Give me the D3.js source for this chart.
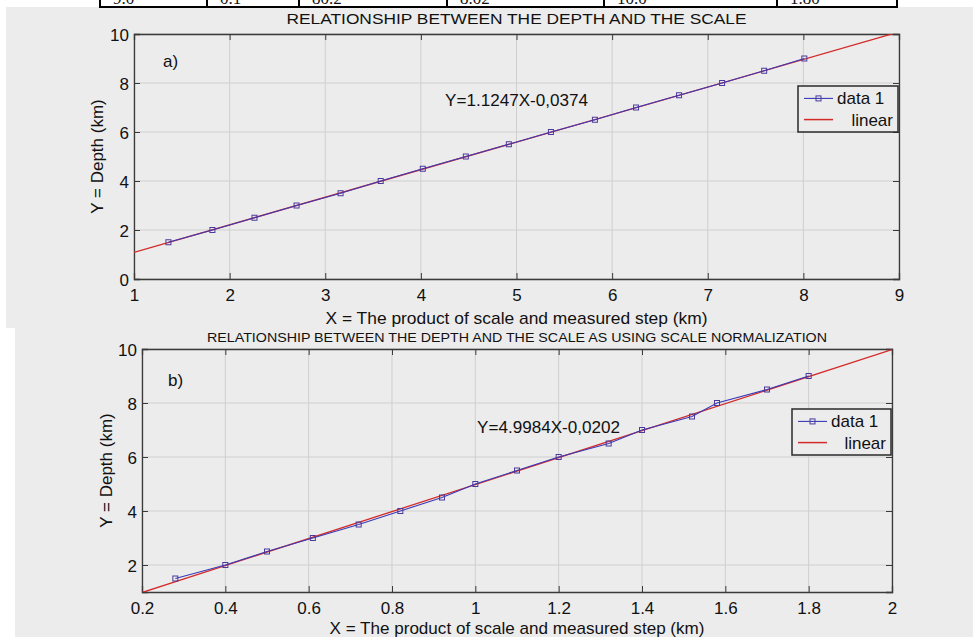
<!DOCTYPE html>
<html>
<head>
<meta charset="UTF-8">
<title>Depth vs scale</title>
<style>
  body { margin: 0; background: #fff; }
  svg { display: block; }
  text { font-family: "Liberation Sans", Arial, sans-serif; fill: #111; }
  .cell { font-family: "Liberation Serif", "Times New Roman", serif; font-size: 17px; }
</style>
</head>
<body>
<svg width="973" height="637"></svg>
<script src="https://d3js.org/d3.v7.min.js"></script>
<script>
// values
const tableRow = ["9.0", "0.1", "80.2", "8.02", "10.0", "1.80"];
const depthKm = [1.5, 2, 2.5, 3, 3.5, 4, 4.5, 5, 5.5, 6, 6.5, 7, 7.5, 8, 8.5, 9];
const stepA = [1.36, 1.82, 2.26, 2.70, 3.16, 3.58, 4.02, 4.47, 4.92, 5.36, 5.82, 6.25, 6.70, 7.15, 7.59, 8.01];
const stepB = [0.28, 0.40, 0.50, 0.61, 0.72, 0.82, 0.92, 1.00, 1.10, 1.20, 1.32, 1.40, 1.52, 1.58, 1.70, 1.80];
const fitA = [1.1247, -0.0374];
const fitB = [4.9984, -0.0202];
const xTicksA = [1, 2, 3, 4, 5, 6, 7, 8, 9];
const yTicksA = [0, 2, 4, 6, 8, 10];
const xTicksB = [0.2, 0.4, 0.6, 0.8, 1, 1.2, 1.4, 1.6, 1.8, 2];
const xTickLabelsB = ["0.2", "0.4", "0.6", "0.8", "1", "1.2", "1.4", "1.6", "1.8", "2"];
const yTicksB = [2, 4, 6, 8, 10];
const legendLabels = ["data 1", "linear"];

const svg = d3.select("svg");

// figure backgrounds
svg.append("rect").attr("x", 6).attr("y", 7).attr("width", 967).attr("height", 321).attr("fill", "#ececec");
svg.append("rect").attr("x", 15).attr("y", 327).attr("width", 958).attr("height", 310).attr("fill", "#ececec");

// clipped table row at the very top
const tableCols = [100, 207, 299, 447, 604, 777, 897];
const tbl = svg.append("g");
tbl.append("line").attr("x1", 100).attr("x2", 897).attr("y1", 7).attr("y2", 7)
  .attr("stroke", "#000").attr("stroke-width", 2);
tbl.selectAll("line.v").data(tableCols).enter().append("line").attr("class", "v")
  .attr("x1", d => d).attr("x2", d => d).attr("y1", 0).attr("y2", 8)
  .attr("stroke", "#000").attr("stroke-width", 2);
tbl.selectAll("text").data(tableRow).enter().append("text").attr("class", "cell")
  .attr("x", (d, i) => tableCols[i] + 13).attr("y", 4).text(d => d);

function panel(o) {
  const g = svg.append("g");
  const x = d3.scaleLinear().domain(o.xDomain).range([o.left, o.right]);
  const y = d3.scaleLinear().domain(o.yDomain).range([o.bottom, o.top]);
  const clipId = "clip" + o.id;
  svg.append("clipPath").attr("id", clipId).append("rect")
    .attr("x", o.left).attr("y", o.top).attr("width", o.right - o.left).attr("height", o.bottom - o.top);

  // grid
  g.selectAll("line.gx").data(o.xTicks).enter().append("line")
    .attr("x1", d => x(d)).attr("x2", d => x(d)).attr("y1", o.top).attr("y2", o.bottom)
    .attr("stroke", "#cfcfcf").attr("stroke-width", 1);
  g.selectAll("line.gy").data(o.yTicks).enter().append("line")
    .attr("y1", d => y(d)).attr("y2", d => y(d)).attr("x1", o.left).attr("x2", o.right)
    .attr("stroke", "#cfcfcf").attr("stroke-width", 1);

  // axes (inward ticks on all sides, MATLAB box)
  const tk = -6;
  const axB = g.append("g").attr("transform", `translate(0,${o.bottom})`)
    .call(d3.axisBottom(x).tickValues(o.xTicks).tickSize(tk).tickFormat((d, i) => o.xLabels[i]));
  const axT = g.append("g").attr("transform", `translate(0,${o.top})`)
    .call(d3.axisTop(x).tickValues(o.xTicks).tickSize(tk).tickFormat(""));
  const axL = g.append("g").attr("transform", `translate(${o.left},0)`)
    .call(d3.axisLeft(y).tickValues(o.yTicks).tickSize(tk).tickFormat(d3.format("d")));
  const axR = g.append("g").attr("transform", `translate(${o.right},0)`)
    .call(d3.axisRight(y).tickValues(o.yTicks).tickSize(tk).tickFormat(""));
  [axB, axT, axL, axR].forEach(a => {
    a.select(".domain").attr("stroke", "#3a3a3a").attr("stroke-width", 1.3);
    a.selectAll(".tick line").attr("stroke", "#3a3a3a");
    a.selectAll("text").attr("font-family", "Liberation Sans, Arial, sans-serif")
      .attr("font-size", 17).attr("fill", "#111");
  });
  axB.selectAll(".tick text").attr("y", 10).attr("dy", "0.71em");
  axL.selectAll(".tick text").attr("x", -5).attr("dy", "0.36em");

  // fitted line
  const fx = o.xDomain;
  g.append("line").attr("clip-path", `url(#${clipId})`)
    .attr("x1", x(fx[0])).attr("y1", y(o.fit[0] * fx[0] + o.fit[1]))
    .attr("x2", x(fx[1])).attr("y2", y(o.fit[0] * fx[1] + o.fit[1]))
    .attr("stroke", "#d42a2a").attr("stroke-width", 1.3);

  // data 1
  const pts = o.xs.map((v, i) => [v, depthKm[i]]);
  g.append("path").datum(pts)
    .attr("d", d3.line().x(d => x(d[0])).y(d => y(d[1])))
    .attr("fill", "none").attr("stroke", "#3a3ab8").attr("stroke-width", 1.1);
  g.selectAll("rect.m").data(pts).enter().append("rect")
    .attr("x", d => x(d[0]) - 2.5).attr("y", d => y(d[1]) - 2.5)
    .attr("width", 5).attr("height", 5)
    .attr("fill", "none").attr("stroke", "#4b3a9a").attr("stroke-width", 1);

  // titles and labels
  g.append("text").attr("x", (o.left + o.right) / 2).attr("y", o.titleY)
    .attr("text-anchor", "middle").attr("font-size", o.titleSize)
    .attr("textLength", o.titleLen).attr("lengthAdjust", "spacingAndGlyphs").text(o.title);
  g.append("text").attr("x", (o.left + o.right) / 2).attr("y", o.xLabelY)
    .attr("text-anchor", "middle").attr("font-size", 17)
    .attr("textLength", o.xLabelLen).attr("lengthAdjust", "spacingAndGlyphs")
    .text("X = The product of scale and measured step (km)");
  g.append("text").attr("transform", `translate(${o.yLabelX},${(o.top + o.bottom) / 2}) rotate(-90)`)
    .attr("text-anchor", "middle").attr("font-size", 17)
    .text("Y = Depth (km)");
  g.append("text").attr("x", o.tagX).attr("y", o.tagY).attr("font-size", 17).text(o.tag);
  g.append("text").attr("x", o.eqX).attr("y", o.eqY).attr("font-size", 17)
    .attr("textLength", 143).attr("lengthAdjust", "spacingAndGlyphs")
    .text(`Y=${o.fit[0]}X-${String(-o.fit[1]).replace(".", ",")}`);

  // legend
  const L = o.legend;
  const lg = g.append("g");
  lg.append("rect").attr("x", L.x).attr("y", L.y).attr("width", L.w).attr("height", L.h)
    .attr("fill", "#ececec").attr("stroke", "#2a2a2a").attr("stroke-width", 1.5);
  const r1 = L.y + L.h * 0.27, r2 = L.y + L.h * 0.73;
  lg.append("line").attr("x1", L.x + 6).attr("x2", L.x + 35).attr("y1", r1).attr("y2", r1)
    .attr("stroke", "#3a3ab8").attr("stroke-width", 1.1);
  lg.append("rect").attr("x", L.x + 18).attr("y", r1 - 2.5).attr("width", 5).attr("height", 5)
    .attr("fill", "none").attr("stroke", "#4b3a9a");
  lg.append("line").attr("x1", L.x + 6).attr("x2", L.x + 35).attr("y1", r2).attr("y2", r2)
    .attr("stroke", "#d42a2a").attr("stroke-width", 1.5);
  lg.append("text").attr("x", L.x + 39).attr("y", r1 + 6).attr("font-size", 17).text(legendLabels[0]);
  lg.append("text").attr("x", L.x + L.w - 5).attr("y", r2 + 6).attr("text-anchor", "end")
    .attr("font-size", 17).text(legendLabels[1]);
}

panel({
  id: "a", left: 134, right: 899, top: 34, bottom: 279,
  xDomain: [1, 9], yDomain: [0, 10], xTicks: xTicksA, xLabels: xTicksA.map(String), yTicks: yTicksA,
  xs: stepA, fit: fitA,
  title: "RELATIONSHIP BETWEEN THE DEPTH AND THE SCALE", titleY: 24, titleSize: 15, titleLen: 460,
  xLabelY: 324, xLabelLen: 382, yLabelX: 103,
  tag: "a)", tagX: 163, tagY: 67, eqX: 445, eqY: 106,
  legend: { x: 798, y: 86, w: 100, h: 46 }
});

panel({
  id: "b", left: 142, right: 892, top: 349, bottom: 592,
  xDomain: [0.2, 2], yDomain: [1, 10], xTicks: xTicksB, xLabels: xTickLabelsB, yTicks: yTicksB,
  xs: stepB, fit: fitB,
  title: "RELATIONSHIP BETWEEN THE DEPTH AND THE SCALE AS USING SCALE NORMALIZATION", titleY: 342, titleSize: 13.5, titleLen: 620,
  xLabelY: 634, xLabelLen: 375, yLabelX: 112,
  tag: "b)", tagX: 168, tagY: 386, eqX: 477, eqY: 433,
  legend: { x: 792, y: 409, w: 99, h: 46 }
});
</script>
</body>
</html>
